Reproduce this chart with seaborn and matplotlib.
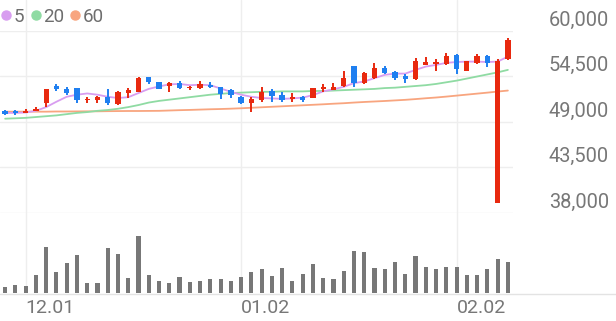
import numpy as np
import pandas as pd
import matplotlib
matplotlib.use("Agg")
import matplotlib.pyplot as plt
import seaborn as sns
from matplotlib.lines import Line2D
from matplotlib.transforms import ScaledTranslation

# ---------------- data ----------------
open_ = [50350, 50350, 50100, 50350, 51250, 53350, 52950, 53050, 51600, 51600,
         52050, 51200, 52450, 52650, 54400, 53800, 53350, 53750, 53050, 53050,
         53500, 53200, 52850, 52050, 51250, 51650, 52750, 52250, 51750, 52050,
         51850, 52950, 52850, 53350, 55750, 53700, 54300, 55500, 55000, 54500,
         54250, 55950, 56050, 56000, 57100, 55200, 56100, 57000, 39200, 56600]
high = [50450, 50450, 50600, 50850, 52950, 53600, 53200, 53100, 52050, 52200,
        52950, 52800, 53100, 54400, 54450, 53850, 53850, 53950, 53350, 54000,
        53850, 53250, 52950, 52100, 52050, 53200, 52950, 52600, 52550, 52100,
        53100, 53600, 53700, 55150, 55800, 55100, 56100, 55750, 55150, 54750,
        56700, 56800, 56600, 57300, 57200, 56400, 57200, 57050, 56600, 59100]
low = [49850, 49850, 50100, 50350, 50850, 52700, 52250, 51350, 51350, 51350,
       51050, 51100, 51950, 52650, 53550, 52950, 52650, 53000, 52850, 52950,
       53050, 51800, 51850, 51150, 50150, 51450, 51400, 51400, 51400, 51450,
       51850, 52650, 52850, 53200, 53250, 53550, 54250, 54750, 54100, 53700,
       54100, 55900, 55150, 55950, 54750, 55150, 56050, 55600, 39200, 56550]
close = [49950, 50100, 50350, 50600, 52950, 52950, 52550, 51650, 51800, 52000,
         51250, 52600, 52850, 54350, 53800, 53000, 53700, 53150, 53250, 53550,
         53200, 52350, 52250, 51350, 51800, 52650, 52150, 51600, 52050, 51650,
         53050, 53250, 53250, 54300, 53700, 54900, 55500, 54950, 54300, 54150,
         56400, 56200, 56200, 57000, 55350, 56350, 57000, 56100, 56400, 58900]
ma5 = [50100, 50100, 50150, 50350, 50800, 51450, 52050, 52300, 52450, 52300,
       52050, 51900, 52000, 52500, 53000, 53300, 53550, 53600, 53450, 53500,
       53450, 53050, 52650, 52300, 52050, 51900, 51850, 51800, 51850, 51950,
       52250, 52700, 52950, 53250, 53700, 53900, 54300, 54700, 54850, 54850,
       55300, 55700, 55900, 56150, 56250, 56300, 56300, 56250, 56300, 56900]
ma20 = [49400, 49450, 49500, 49600, 49700, 49800, 49950, 50100, 50200, 50350,
        50450, 50600, 50800, 51050, 51350, 51550, 51700, 51850, 52000, 52150,
        52300, 52400, 52500, 52550, 52600, 52650, 52650, 52700, 52700, 52700,
        52750, 52750, 52800, 52850, 52900, 52950, 53000, 53100, 53150, 53250,
        53350, 53450, 53600, 53800, 54000, 54250, 54500, 54750, 55000, 55300]
ma60 = [50250, 50250, 50250, 50250, 50250, 50270, 50270, 50280, 50290, 50290,
        50310, 50320, 50330, 50330, 50340, 50350, 50390, 50430, 50460, 50500,
        50540, 50570, 50610, 50660, 50720, 50780, 50840, 50900, 50960, 51020,
        51080, 51140, 51210, 51270, 51350, 51420, 51480, 51540, 51610, 51680,
        51770, 51870, 51960, 52070, 52190, 52310, 52430, 52550, 52680, 52800]
volume = [63000, 80000, 70000, 180000, 463000, 207000, 303000, 380000, 103000, 103000,
          450000, 393000, 153000, 573000, 180000, 123000, 97000, 157000, 107000, 120000,
          140000, 140000, 120000, 163000, 207000, 243000, 173000, 247000, 120000, 187000,
          290000, 147000, 137000, 220000, 420000, 407000, 250000, 243000, 313000, 190000,
          373000, 257000, 240000, 263000, 260000, 177000, 183000, 243000, 340000, 307000]
date_ticks = [2, 23, 44]
date_labels = ["12.01", "01.02", "02.02"]
price_ticks = [38000, 43500, 49000, 54500, 60000]
price_labels = ["38,000", "43,500", "49,000", "54,500", "60,000"]
ma_names = ["5", "20", "60"]

# ---------------- style ----------------
sns.set_theme(style="white")
plt.rcParams['font.family'] = ['Roboto', 'DejaVu Sans']

UP = "#e8290f"
DOWN = "#1f7ff0"
MA_COLORS = ["#d89df0", "#8fdba3", "#f8a57f"]
GRID = "#eeeeee"
TXT = "#777777"

W, H = 616, 321
fig = plt.figure(figsize=(W / 100, H / 100), dpi=100)


def frac(x0, y0, x1, y1):
    return [x0 / W, 1 - y1 / H, (x1 - x0) / W, (y1 - y0) / H]


n = len(close)
idx = np.arange(n)
XL = (-0.5, n - 0.5)

# background axes for vertical grid lines
ax_bg = fig.add_axes(frac(0, 0, 513, 293))
ax_bg.set_xlim(*XL)
ax_bg.set_ylim(0, 1)
for t in date_ticks:
    ax_bg.axvline(t, color=GRID, lw=1.0)
ax_bg.axis("off")

# price axes
ax_p = fig.add_axes(frac(0, 31, 513, 213))
ax_p.patch.set_alpha(0)
ax_p.set_xlim(*XL)
ax_p.set_ylim(38000, 60000)

df = pd.DataFrame({"i": idx, "ma5": ma5, "ma20": ma20, "ma60": ma60})
for col, c in zip(["ma60", "ma20", "ma5"], MA_COLORS[::-1]):
    sns.lineplot(data=df, x="i", y=col, color=c, lw=1.3, ax=ax_p, zorder=2)

for i in range(n):
    o, h, l, c = open_[i], high[i], low[i], close[i]
    col = UP if c >= o else DOWN
    ax_p.vlines(i, l, h, color=col, lw=1.4, zorder=3)
    body = max(abs(c - o), 90)
    ax_p.bar(i, body, bottom=min(o, c) if abs(c - o) >= 90 else (o + c) / 2 - 45,
             width=0.52, color=col, zorder=4, linewidth=0)

ax_p.set_yticks(price_ticks, price_labels)
ax_p.yaxis.tick_right()
ax_p.tick_params(axis="y", length=0, pad=69, labelsize=14.4, labelcolor=TXT)
for lab in ax_p.get_yticklabels():
    lab.set_horizontalalignment("right")
    lab.set_transform(lab.get_transform() + ScaledTranslation(0, 0.13, fig.dpi_scale_trans))
ax_p.set_xticks([])
ax_p.grid(axis="y", color=GRID, lw=1.0)
ax_p.set_axisbelow(True)
ax_p.set_xlabel("")
ax_p.set_ylabel("")
for s in ax_p.spines.values():
    s.set_visible(False)

# volume axes
ax_v = fig.add_axes(frac(0, 225, 513, 293))
ax_v.patch.set_alpha(0)
vdf = pd.DataFrame({"i": idx, "v": volume})
sns.barplot(data=vdf, x="i", y="v", native_scale=True, color="#777777",
            saturation=1, width=0.4, errorbar=None, ax=ax_v, linewidth=0)
ax_v.set_xlim(*XL)
ax_v.set_ylim(0, 680000)
ax_v.set_yticks([])
ax_v.set_xticks(date_ticks, date_labels)
for lab in ax_v.get_xticklabels():
    lab.set_horizontalalignment("left")
ax_v.tick_params(axis="x", length=0, pad=4, labelsize=14, labelcolor=TXT)
ax_v.set_xlabel("")
ax_v.set_ylabel("")
for s in ax_v.spines.values():
    s.set_visible(False)

# baseline across the full width
fig.add_artist(Line2D([0, 1], [1 - 293.5 / H] * 2, transform=fig.transFigure,
                      color="#e3e3e3", lw=1.0))

# legend
handles = [Line2D([], [], marker="o", ls="", color=c, markersize=6.5) for c in MA_COLORS]
fig.legend(handles, ma_names, loc="center left", bbox_to_anchor=(-0.002, 1 - 17 / H),
           frameon=False, ncol=3, handletextpad=0.0, columnspacing=0.2,
           handlelength=0.8, borderaxespad=0, borderpad=0, fontsize=13.5,
           labelcolor="#6e6e6e")

fig.savefig("out.png", dpi=100, facecolor="white")
